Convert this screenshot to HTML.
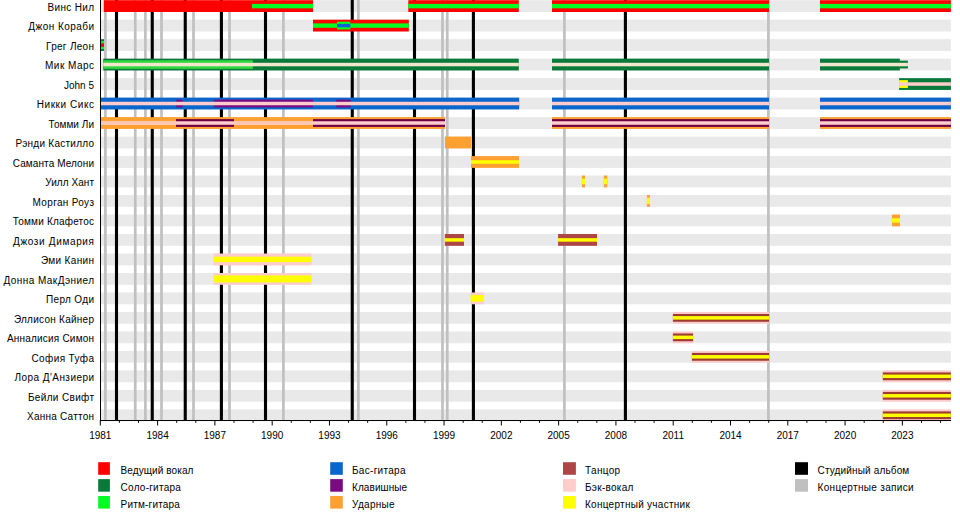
<!DOCTYPE html><html><head><meta charset="utf-8"><style>
html,body{margin:0;padding:0;background:#fff;width:960px;height:520px;overflow:hidden}
svg{position:absolute;left:0;top:0}
text{font-family:"Liberation Sans",sans-serif;font-size:10px;fill:#000}
</style></head><body>
<svg width="960" height="520" viewBox="0 0 960 520">
<rect x="100.5" y="0.20" width="850.40" height="11.80" fill="#e9e9e9"/>
<rect x="100.5" y="19.69" width="850.40" height="11.80" fill="#e9e9e9"/>
<rect x="100.5" y="39.17" width="850.40" height="11.80" fill="#e9e9e9"/>
<rect x="100.5" y="58.65" width="850.40" height="11.80" fill="#e9e9e9"/>
<rect x="100.5" y="78.14" width="850.40" height="11.80" fill="#e9e9e9"/>
<rect x="100.5" y="97.62" width="850.40" height="11.80" fill="#e9e9e9"/>
<rect x="100.5" y="117.11" width="850.40" height="11.80" fill="#e9e9e9"/>
<rect x="100.5" y="136.59" width="850.40" height="11.80" fill="#e9e9e9"/>
<rect x="100.5" y="156.08" width="850.40" height="11.80" fill="#e9e9e9"/>
<rect x="100.5" y="175.56" width="850.40" height="11.80" fill="#e9e9e9"/>
<rect x="100.5" y="195.05" width="850.40" height="11.80" fill="#e9e9e9"/>
<rect x="100.5" y="214.53" width="850.40" height="11.80" fill="#e9e9e9"/>
<rect x="100.5" y="234.02" width="850.40" height="11.80" fill="#e9e9e9"/>
<rect x="100.5" y="253.51" width="850.40" height="11.80" fill="#e9e9e9"/>
<rect x="100.5" y="272.99" width="850.40" height="11.80" fill="#e9e9e9"/>
<rect x="100.5" y="292.48" width="850.40" height="11.80" fill="#e9e9e9"/>
<rect x="100.5" y="311.96" width="850.40" height="11.80" fill="#e9e9e9"/>
<rect x="100.5" y="331.45" width="850.40" height="11.80" fill="#e9e9e9"/>
<rect x="100.5" y="350.93" width="850.40" height="11.80" fill="#e9e9e9"/>
<rect x="100.5" y="370.42" width="850.40" height="11.80" fill="#e9e9e9"/>
<rect x="100.5" y="389.90" width="850.40" height="11.80" fill="#e9e9e9"/>
<rect x="100.5" y="409.39" width="850.40" height="11.80" fill="#e9e9e9"/>
<rect x="104.05" y="0" width="2.7" height="420" fill="#c0c0c0"/>
<rect x="133.90" y="0" width="2.7" height="420" fill="#c0c0c0"/>
<rect x="144.05" y="0" width="2.7" height="420" fill="#c0c0c0"/>
<rect x="160.15" y="0" width="2.7" height="420" fill="#c0c0c0"/>
<rect x="192.15" y="0" width="2.7" height="420" fill="#c0c0c0"/>
<rect x="228.15" y="0" width="2.7" height="420" fill="#c0c0c0"/>
<rect x="282.05" y="0" width="2.7" height="420" fill="#c0c0c0"/>
<rect x="357.05" y="0" width="2.7" height="420" fill="#c0c0c0"/>
<rect x="441.15" y="0" width="2.7" height="420" fill="#c0c0c0"/>
<rect x="445.90" y="0" width="2.7" height="420" fill="#c0c0c0"/>
<rect x="563.05" y="0" width="2.7" height="420" fill="#c0c0c0"/>
<rect x="767.05" y="0" width="2.7" height="420" fill="#c0c0c0"/>
<rect x="114.95" y="0" width="3.1" height="420" fill="#000000"/>
<rect x="150.70" y="0" width="3.1" height="420" fill="#000000"/>
<rect x="183.70" y="0" width="3.1" height="420" fill="#000000"/>
<rect x="219.85" y="0" width="3.1" height="420" fill="#000000"/>
<rect x="263.95" y="0" width="3.1" height="420" fill="#000000"/>
<rect x="350.70" y="0" width="3.1" height="420" fill="#000000"/>
<rect x="412.95" y="0" width="3.1" height="420" fill="#000000"/>
<rect x="471.85" y="0" width="3.1" height="420" fill="#000000"/>
<rect x="623.85" y="0" width="3.1" height="420" fill="#000000"/>
<rect x="103.80" y="0.20" width="209.20" height="11.80" fill="#ff0000"/>
<rect x="408.30" y="0.20" width="110.50" height="11.80" fill="#ff0000"/>
<rect x="552.00" y="0.20" width="217.00" height="11.80" fill="#ff0000"/>
<rect x="820.00" y="0.20" width="130.90" height="11.80" fill="#ff0000"/>
<rect x="252.00" y="3.90" width="61.00" height="4.40" fill="#00ff22"/>
<rect x="408.30" y="3.90" width="110.50" height="4.40" fill="#00ff22"/>
<rect x="552.00" y="3.90" width="217.00" height="4.40" fill="#00ff22"/>
<rect x="820.00" y="3.90" width="130.90" height="4.40" fill="#00ff22"/>
<rect x="313.00" y="19.69" width="95.80" height="11.80" fill="#ff0000"/>
<rect x="313.00" y="23.39" width="95.80" height="4.40" fill="#00ff22"/>
<rect x="337.00" y="21.69" width="13.30" height="7.80" fill="#00ff22"/>
<rect x="337.00" y="23.84" width="13.30" height="3.50" fill="#0a66cc"/>
<rect x="101.00" y="39.17" width="3.00" height="11.80" fill="#0a7a3a"/>
<rect x="101.00" y="41.17" width="3.00" height="7.80" fill="#00ff22"/>
<rect x="101.00" y="43.32" width="3.00" height="3.50" fill="#ff0000"/>
<rect x="103.30" y="58.65" width="415.50" height="11.80" fill="#0a7a3a"/>
<rect x="552.00" y="58.65" width="217.00" height="11.80" fill="#0a7a3a"/>
<rect x="820.00" y="58.65" width="79.90" height="11.80" fill="#0a7a3a"/>
<rect x="103.30" y="60.25" width="149.60" height="8.60" fill="#30d840"/>
<rect x="899.90" y="60.65" width="8.00" height="7.80" fill="#0a7a3a"/>
<rect x="103.30" y="62.80" width="415.50" height="3.50" fill="#f2e6cc"/>
<rect x="552.00" y="62.80" width="217.00" height="3.50" fill="#f2e6cc"/>
<rect x="820.00" y="62.80" width="87.90" height="3.50" fill="#f2e6cc"/>
<rect x="899.10" y="78.14" width="51.80" height="11.80" fill="#0a7a3a"/>
<rect x="899.10" y="80.14" width="8.80" height="7.80" fill="#ffff00"/>
<rect x="899.10" y="82.29" width="51.80" height="3.50" fill="#ffcccc"/>
<rect x="101.00" y="97.62" width="418.20" height="11.80" fill="#0a66cc"/>
<rect x="552.00" y="97.62" width="217.00" height="11.80" fill="#0a66cc"/>
<rect x="820.00" y="97.62" width="130.90" height="11.80" fill="#0a66cc"/>
<rect x="176.30" y="99.62" width="6.20" height="7.80" fill="#7a0a80"/>
<rect x="213.80" y="99.62" width="99.20" height="7.80" fill="#7a0a80"/>
<rect x="336.30" y="99.62" width="14.30" height="7.80" fill="#7a0a80"/>
<rect x="101.00" y="101.77" width="418.20" height="3.50" fill="#ffcccc"/>
<rect x="552.00" y="101.77" width="217.00" height="3.50" fill="#ffcccc"/>
<rect x="820.00" y="101.77" width="130.90" height="3.50" fill="#ffcccc"/>
<rect x="101.00" y="117.11" width="344.00" height="11.80" fill="#ffa030"/>
<rect x="552.00" y="117.11" width="217.00" height="11.80" fill="#ffa030"/>
<rect x="820.00" y="117.11" width="130.90" height="11.80" fill="#ffa030"/>
<rect x="176.00" y="119.11" width="58.00" height="7.80" fill="#6e0046"/>
<rect x="313.00" y="119.11" width="132.00" height="7.80" fill="#6e0046"/>
<rect x="552.00" y="119.11" width="217.00" height="7.80" fill="#6e0046"/>
<rect x="820.00" y="119.11" width="130.90" height="7.80" fill="#6e0046"/>
<rect x="101.00" y="121.26" width="344.00" height="3.50" fill="#ffcccc"/>
<rect x="552.00" y="121.26" width="217.00" height="3.50" fill="#ffcccc"/>
<rect x="820.00" y="121.26" width="130.90" height="3.50" fill="#ffcccc"/>
<rect x="101.00" y="121.26" width="75.00" height="3.50" fill="#ffc8b4"/>
<rect x="234.00" y="121.26" width="79.00" height="3.50" fill="#ffc8b4"/>
<rect x="445.00" y="136.59" width="26.00" height="11.80" fill="#ffa030"/>
<rect x="471.00" y="156.08" width="48.00" height="11.80" fill="#ffa030"/>
<rect x="471.00" y="160.23" width="48.00" height="3.50" fill="#ffff00"/>
<rect x="581.90" y="175.56" width="3.10" height="11.80" fill="#ffa030"/>
<rect x="581.90" y="178.72" width="3.10" height="5.50" fill="#ffff00"/>
<rect x="603.80" y="175.56" width="3.50" height="11.80" fill="#ffa030"/>
<rect x="603.80" y="178.72" width="3.50" height="5.50" fill="#ffff00"/>
<rect x="646.90" y="195.05" width="3.10" height="11.80" fill="#ffa030"/>
<rect x="646.90" y="197.70" width="3.10" height="6.50" fill="#ffff00"/>
<rect x="891.90" y="214.53" width="8.10" height="11.80" fill="#ffa030"/>
<rect x="891.90" y="218.28" width="8.10" height="4.30" fill="#ffff00"/>
<rect x="444.90" y="234.02" width="19.10" height="11.80" fill="#ae4646"/>
<rect x="444.90" y="238.17" width="19.10" height="3.50" fill="#ffff00"/>
<rect x="558.10" y="234.02" width="38.90" height="11.80" fill="#ae4646"/>
<rect x="558.10" y="238.17" width="38.90" height="3.50" fill="#ffff00"/>
<rect x="213.60" y="253.51" width="97.70" height="11.80" fill="#ffcccc"/>
<rect x="213.60" y="256.71" width="97.70" height="5.40" fill="#ffff00"/>
<rect x="213.60" y="272.99" width="97.70" height="11.80" fill="#ffcccc"/>
<rect x="213.60" y="275.39" width="97.70" height="7.00" fill="#ffff00"/>
<rect x="471.50" y="292.48" width="12.30" height="11.80" fill="#ffcccc"/>
<rect x="470.50" y="295.12" width="13.30" height="6.50" fill="#ffff00"/>
<rect x="672.90" y="311.96" width="96.10" height="11.80" fill="#ffcccc"/>
<rect x="672.90" y="313.96" width="96.10" height="7.80" fill="#9c3c30"/>
<rect x="672.90" y="316.11" width="96.10" height="3.50" fill="#ffff00"/>
<rect x="672.90" y="331.45" width="20.20" height="11.80" fill="#ffcccc"/>
<rect x="672.90" y="333.45" width="20.20" height="7.80" fill="#9c3c30"/>
<rect x="672.90" y="335.60" width="20.20" height="3.50" fill="#ffff00"/>
<rect x="691.90" y="350.93" width="77.10" height="11.80" fill="#ffcccc"/>
<rect x="691.90" y="352.93" width="77.10" height="7.80" fill="#9c3c30"/>
<rect x="691.90" y="355.08" width="77.10" height="3.50" fill="#ffff00"/>
<rect x="882.80" y="370.42" width="68.10" height="11.80" fill="#ffcccc"/>
<rect x="882.80" y="372.42" width="68.10" height="7.80" fill="#9c3c30"/>
<rect x="882.80" y="374.56" width="68.10" height="3.50" fill="#ffff00"/>
<rect x="882.80" y="389.90" width="68.10" height="11.80" fill="#ffcccc"/>
<rect x="882.80" y="391.90" width="68.10" height="7.80" fill="#9c3c30"/>
<rect x="882.80" y="394.05" width="68.10" height="3.50" fill="#ffff00"/>
<rect x="882.80" y="409.39" width="68.10" height="11.80" fill="#ffcccc"/>
<rect x="882.80" y="411.39" width="68.10" height="7.80" fill="#9c3c30"/>
<rect x="882.80" y="413.54" width="68.10" height="3.50" fill="#ffff00"/>
<rect x="100" y="0" width="1" height="421" fill="#000"/>
<rect x="100" y="420" width="851" height="1" fill="#000"/>
<rect x="99.80" y="420" width="1" height="5.5" fill="#000"/>
<text x="100.30" y="439.0" text-anchor="middle">1981</text>
<rect x="118.90" y="420" width="1" height="2.8" fill="#000"/>
<rect x="137.99" y="420" width="1" height="2.8" fill="#000"/>
<rect x="157.09" y="420" width="1" height="5.5" fill="#000"/>
<text x="157.59" y="439.0" text-anchor="middle">1984</text>
<rect x="176.19" y="420" width="1" height="2.8" fill="#000"/>
<rect x="195.29" y="420" width="1" height="2.8" fill="#000"/>
<rect x="214.38" y="420" width="1" height="5.5" fill="#000"/>
<text x="214.88" y="439.0" text-anchor="middle">1987</text>
<rect x="233.48" y="420" width="1" height="2.8" fill="#000"/>
<rect x="252.58" y="420" width="1" height="2.8" fill="#000"/>
<rect x="271.67" y="420" width="1" height="5.5" fill="#000"/>
<text x="272.17" y="439.0" text-anchor="middle">1990</text>
<rect x="290.77" y="420" width="1" height="2.8" fill="#000"/>
<rect x="309.87" y="420" width="1" height="2.8" fill="#000"/>
<rect x="328.96" y="420" width="1" height="5.5" fill="#000"/>
<text x="329.46" y="439.0" text-anchor="middle">1993</text>
<rect x="348.06" y="420" width="1" height="2.8" fill="#000"/>
<rect x="367.16" y="420" width="1" height="2.8" fill="#000"/>
<rect x="386.26" y="420" width="1" height="5.5" fill="#000"/>
<text x="386.76" y="439.0" text-anchor="middle">1996</text>
<rect x="405.35" y="420" width="1" height="2.8" fill="#000"/>
<rect x="424.45" y="420" width="1" height="2.8" fill="#000"/>
<rect x="443.55" y="420" width="1" height="5.5" fill="#000"/>
<text x="444.05" y="439.0" text-anchor="middle">1999</text>
<rect x="462.64" y="420" width="1" height="2.8" fill="#000"/>
<rect x="481.74" y="420" width="1" height="2.8" fill="#000"/>
<rect x="500.84" y="420" width="1" height="5.5" fill="#000"/>
<text x="501.34" y="439.0" text-anchor="middle">2002</text>
<rect x="519.93" y="420" width="1" height="2.8" fill="#000"/>
<rect x="539.03" y="420" width="1" height="2.8" fill="#000"/>
<rect x="558.13" y="420" width="1" height="5.5" fill="#000"/>
<text x="558.63" y="439.0" text-anchor="middle">2005</text>
<rect x="577.23" y="420" width="1" height="2.8" fill="#000"/>
<rect x="596.32" y="420" width="1" height="2.8" fill="#000"/>
<rect x="615.42" y="420" width="1" height="5.5" fill="#000"/>
<text x="615.92" y="439.0" text-anchor="middle">2008</text>
<rect x="634.52" y="420" width="1" height="2.8" fill="#000"/>
<rect x="653.61" y="420" width="1" height="2.8" fill="#000"/>
<rect x="672.71" y="420" width="1" height="5.5" fill="#000"/>
<text x="673.21" y="439.0" text-anchor="middle">2011</text>
<rect x="691.81" y="420" width="1" height="2.8" fill="#000"/>
<rect x="710.90" y="420" width="1" height="2.8" fill="#000"/>
<rect x="730.00" y="420" width="1" height="5.5" fill="#000"/>
<text x="730.50" y="439.0" text-anchor="middle">2014</text>
<rect x="749.10" y="420" width="1" height="2.8" fill="#000"/>
<rect x="768.20" y="420" width="1" height="2.8" fill="#000"/>
<rect x="787.29" y="420" width="1" height="5.5" fill="#000"/>
<text x="787.79" y="439.0" text-anchor="middle">2017</text>
<rect x="806.39" y="420" width="1" height="2.8" fill="#000"/>
<rect x="825.49" y="420" width="1" height="2.8" fill="#000"/>
<rect x="844.58" y="420" width="1" height="5.5" fill="#000"/>
<text x="845.08" y="439.0" text-anchor="middle">2020</text>
<rect x="863.68" y="420" width="1" height="2.8" fill="#000"/>
<rect x="882.78" y="420" width="1" height="2.8" fill="#000"/>
<rect x="901.87" y="420" width="1" height="5.5" fill="#000"/>
<text x="902.37" y="439.0" text-anchor="middle">2023</text>
<rect x="920.97" y="420" width="1" height="2.8" fill="#000"/>
<rect x="940.07" y="420" width="1" height="2.8" fill="#000"/>
<text x="94" y="10.90" text-anchor="end" textLength="46.50" lengthAdjust="spacing">Винс Нил</text>
<text x="94" y="30.38" text-anchor="end" textLength="65.76" lengthAdjust="spacing">Джон Кораби</text>
<text x="94" y="49.87" text-anchor="end" textLength="48.02" lengthAdjust="spacing">Грег Леон</text>
<text x="94" y="69.36" text-anchor="end" textLength="48.94" lengthAdjust="spacing">Мик Марс</text>
<text x="94" y="88.84" text-anchor="end" textLength="30.03" lengthAdjust="spacing">John 5</text>
<text x="94" y="108.33" text-anchor="end" textLength="57.32" lengthAdjust="spacing">Никки Сикс</text>
<text x="94" y="127.81" text-anchor="end" textLength="45.46" lengthAdjust="spacing">Томми Ли</text>
<text x="94" y="147.29" text-anchor="end" textLength="78.47" lengthAdjust="spacing">Рэнди Кастилло</text>
<text x="94" y="166.78" text-anchor="end" textLength="81.25" lengthAdjust="spacing">Саманта Мелони</text>
<text x="94" y="186.27" text-anchor="end" textLength="48.78" lengthAdjust="spacing">Уилл Хант</text>
<text x="94" y="205.75" text-anchor="end" textLength="61.42" lengthAdjust="spacing">Морган Роуз</text>
<text x="94" y="225.23" text-anchor="end" textLength="81.22" lengthAdjust="spacing">Томми Клафетос</text>
<text x="94" y="244.72" text-anchor="end" textLength="81.02" lengthAdjust="spacing">Джози Димария</text>
<text x="94" y="264.20" text-anchor="end" textLength="53.04" lengthAdjust="spacing">Эми Канин</text>
<text x="94" y="283.69" text-anchor="end" textLength="90.57" lengthAdjust="spacing">Донна МакДэниел</text>
<text x="94" y="303.17" text-anchor="end" textLength="47.96" lengthAdjust="spacing">Перл Оди</text>
<text x="94" y="322.66" text-anchor="end" textLength="80.12" lengthAdjust="spacing">Эллисон Кайнер</text>
<text x="94" y="342.14" text-anchor="end" textLength="87.05" lengthAdjust="spacing">Анналисия Симон</text>
<text x="94" y="361.63" text-anchor="end" textLength="62.52" lengthAdjust="spacing">София Туфа</text>
<text x="94" y="381.11" text-anchor="end" textLength="79.48" lengthAdjust="spacing">Лора Д'Анзиери</text>
<text x="94" y="400.60" text-anchor="end" textLength="66.03" lengthAdjust="spacing">Бейли Свифт</text>
<text x="94" y="420.08" text-anchor="end" textLength="66.94" lengthAdjust="spacing">Ханна Саттон</text>
<rect x="98.2" y="462.20" width="11.7" height="12.6" fill="#ff0000"/>
<text x="120.6" y="473.80" textLength="72.78" lengthAdjust="spacing">Ведущий вокал</text>
<rect x="98.2" y="479.10" width="11.7" height="12.6" fill="#0a7a3a"/>
<text x="120.6" y="490.70" textLength="60.20" lengthAdjust="spacing">Соло-гитара</text>
<rect x="98.2" y="496.00" width="11.7" height="12.6" fill="#00ff22"/>
<text x="120.6" y="507.60" textLength="59.24" lengthAdjust="spacing">Ритм-гитара</text>
<rect x="330.2" y="462.20" width="12.6" height="12.6" fill="#0a66cc"/>
<text x="352" y="473.80" textLength="53.54" lengthAdjust="spacing">Бас-гитара</text>
<rect x="330.2" y="479.10" width="12.6" height="12.6" fill="#7a0a80"/>
<text x="352" y="490.70" textLength="55.12" lengthAdjust="spacing">Клавишные</text>
<rect x="330.2" y="496.00" width="12.6" height="12.6" fill="#ffa030"/>
<text x="352" y="507.60" textLength="42.61" lengthAdjust="spacing">Ударные</text>
<rect x="563" y="462.20" width="12.9" height="12.6" fill="#ae4646"/>
<text x="585" y="473.80" textLength="35.18" lengthAdjust="spacing">Танцор</text>
<rect x="563" y="479.10" width="12.9" height="12.6" fill="#ffcccc"/>
<text x="585" y="490.70" textLength="48.42" lengthAdjust="spacing">Бэк-вокал</text>
<rect x="563" y="496.00" width="12.9" height="12.6" fill="#ffff00"/>
<text x="585" y="507.60" textLength="104.82" lengthAdjust="spacing">Концертный участник</text>
<rect x="795" y="462.20" width="13.0" height="12.6" fill="#000000"/>
<text x="817.5" y="473.80" textLength="91.74" lengthAdjust="spacing">Студийный альбом</text>
<rect x="795" y="479.10" width="13.0" height="12.6" fill="#c0c0c0"/>
<text x="817.5" y="490.70" textLength="96.20" lengthAdjust="spacing">Концертные записи</text>
</svg></body></html>
